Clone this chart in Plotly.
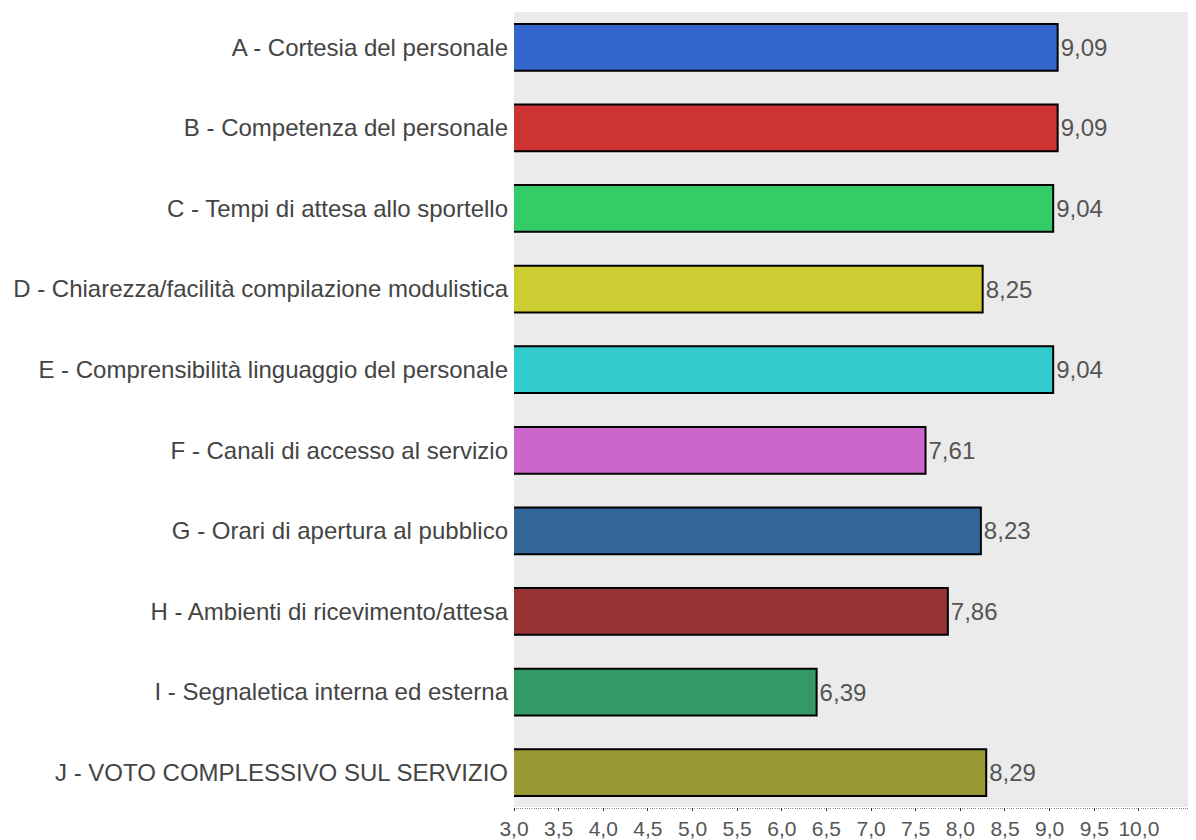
import plotly.graph_objects as go

categories = [
    "A - Cortesia del personale",
    "B - Competenza del personale",
    "C - Tempi di attesa allo sportello",
    "D - Chiarezza/facilità compilazione modulistica",
    "E - Comprensibilità linguaggio del personale",
    "F - Canali di accesso al servizio",
    "G - Orari di apertura al pubblico",
    "H - Ambienti di ricevimento/attesa",
    "I - Segnaletica interna ed esterna",
    "J - VOTO COMPLESSIVO SUL SERVIZIO",
]
values = [9.09, 9.09, 9.04, 8.25, 9.04, 7.61, 8.23, 7.86, 6.39, 8.29]
colors = ["#3366CC", "#CC3333", "#33CC66", "#CCCC33", "#33CCCC",
          "#CC66CC", "#336699", "#993333", "#339966", "#999933"]
tick_values = [3.0, 3.5, 4.0, 4.5, 5.0, 5.5, 6.0, 6.5, 7.0, 7.5, 8.0, 8.5, 9.0, 9.5, 10.0]

FONT = "Liberation Sans, Arial, sans-serif"

fig = go.Figure(go.Bar(
    x=values,
    y=categories,
    orientation="h",
    marker=dict(color=colors, line=dict(color="#000000", width=2)),
    width=0.58,
    text=values,
    texttemplate="%{x:.2f}",
    textposition="outside",
    textfont=dict(family=FONT, size=24, color="#555555"),
    cliponaxis=False,
    hoverinfo="skip",
))

fig.update_layout(
    width=1188, height=832,
    margin=dict(l=506, r=0, t=4, b=29, pad=0),
    paper_bgcolor="white",
    plot_bgcolor="#EBEBEB",
    separators=",.",
    showlegend=False,
    font=dict(family=FONT, size=24, color="#444444"),
    xaxis=dict(
        range=[3, 10.64],
        tickvals=tick_values,
        tickformat=".1f",
        showgrid=False,
        zeroline=False,
        ticks="outside",
        ticklen=3,
        tickcolor="#333333",
        tickwidth=1,
        tickfont=dict(family=FONT, size=21, color="#555555"),
        showline=False,
        minor=dict(ticks="outside", dtick=0.025, tick0=3, ticklen=1, tickcolor="#888888", tickwidth=1, showgrid=False),
    ),
    yaxis=dict(
        range=[9.426, -0.438],
        showgrid=False,
        zeroline=False,
        ticks="",
        ticklabelstandoff=5,
        tickfont=dict(family=FONT, size=24, color="#444444"),
    ),
)

fig.write_html("out.html")
